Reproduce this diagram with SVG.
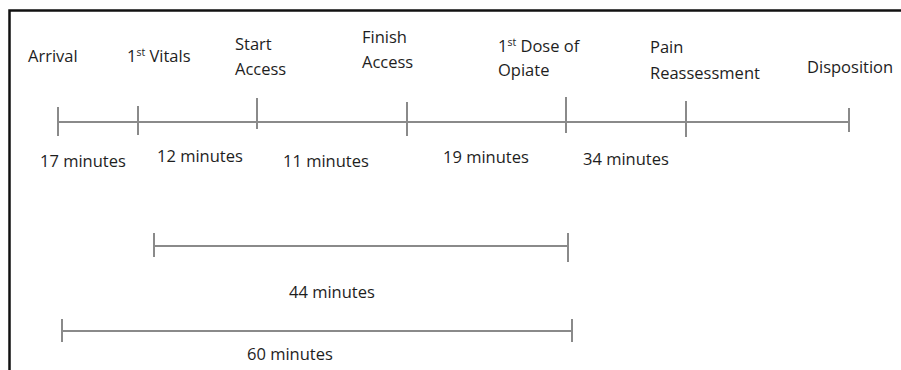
<svg xmlns="http://www.w3.org/2000/svg" width="901" height="370" viewBox="0 0 901 370">
<style>
text{font-family:"Open Sans","Noto Sans","DejaVu Sans",sans-serif;font-size:16.5px;fill:#1e1e1e}
.sup{font-size:10.5px}
.ln{stroke:#8a8a8a;stroke-width:2;fill:none}
.frame{stroke:#111;stroke-width:2.5;fill:none}
</style>
<rect width="901" height="370" fill="#fff"/>
<path class="frame" d="M9.5,370 V10.5 H901"/>
<g id="connectors">
<path class="ln" d="M58,122 H849"/>
<path class="ln" d="M58,107 V136 M138,106 V135 M257,98 V129 M407,102 V136 M566,97 V133 M686,101 V137 M849,108 V132"/>
<path class="ln" d="M154,246 H568 M154,233 V257 M568,233 V262"/>
<path class="ln" d="M62,331 H572 M62,319 V342 M572,319 V342"/>
</g>
<g id="arrival"><text x="28" y="62">Arrival</text></g>
<g id="vitals"><text x="127" y="62">1<tspan class="sup" dy="-6">st</tspan><tspan dy="6"> Vitals</tspan></text></g>
<g id="start-access"><text x="235" y="50">Start</text><text x="235" y="75">Access</text></g>
<g id="finish-access"><text x="362" y="43">Finish</text><text x="362" y="68">Access</text></g>
<g id="dose"><text x="498" y="52">1<tspan class="sup" dy="-6">st</tspan><tspan dy="6"> Dose of</tspan></text><text x="498" y="76">Opiate</text></g>
<g id="pain"><text x="650" y="53">Pain</text><text x="650" y="79">Reassessment</text></g>
<g id="disposition"><text x="807" y="73">Disposition</text></g>
<g id="d17"><text x="40" y="167">17 minutes</text></g>
<g id="d12"><text x="157" y="162">12 minutes</text></g>
<g id="d11"><text x="283" y="167">11 minutes</text></g>
<g id="d19"><text x="443" y="163">19 minutes</text></g>
<g id="d34"><text x="583" y="165">34 minutes</text></g>
<g id="d44"><text x="289" y="298">44 minutes</text></g>
<g id="d60"><text x="247" y="360">60 minutes</text></g>
</svg>
